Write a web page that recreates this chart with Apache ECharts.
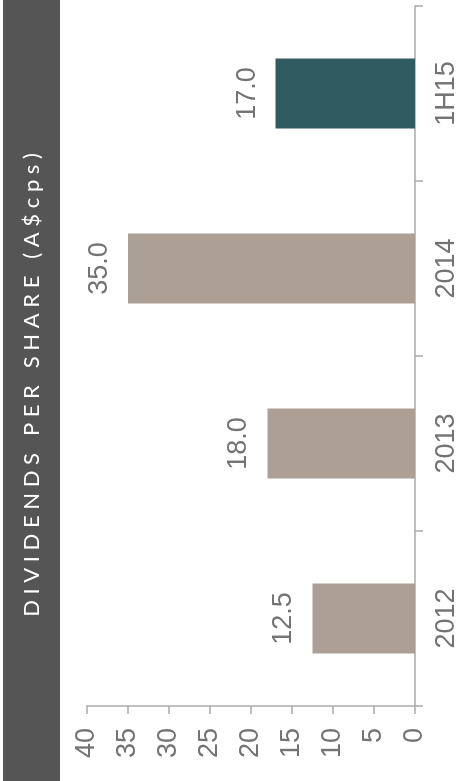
<!DOCTYPE html>
<html>
<head>
<meta charset="utf-8">
<script src="https://cdn.jsdelivr.net/npm/echarts@6/dist/echarts.min.js"></script>
<style>
  html, body { margin: 0; padding: 0; background: #ffffff; overflow: hidden; }
  body { width: 462px; height: 781px; position: relative; }
  /* chart is laid out as a column chart and turned a quarter turn anticlockwise */
  #chart {
    position: absolute; left: 0; top: 0;
    width: 781px; height: 462px;
    transform-origin: 0 0;
    transform: translateY(781px) rotate(-90deg);
  }
</style>
</head>
<body>
<div id="chart"></div>
<script>
// Dividends per share, A$ cents
const categories = ['2012', '2013', '2014', '1H15'];
const dividends = [12.5, 18.0, 35.0, 17.0];
const valueTicks = [0, 5, 10, 15, 20, 25, 30, 35, 40];
const titleText = 'DIVIDENDS PER SHARE (A$cps)';
const latestPeriod = '1H15';

const GREY_BAR = '#ab9f96';
const TEAL_BAR = '#305b60';
const AXIS = '#ababab';
const LABEL = '#737373';
const NUM_FONT = '"Liberation Sans", Arial, sans-serif';

// spread the heading letters out
const spacedTitle = titleText.split(' ')
  .map(w => w.split('').join(' '))
  .join('   ');

const chart = echarts.init(document.getElementById('chart'), null, { renderer: 'canvas' });

chart.setOption({
  animation: false,
  backgroundColor: '#ffffff',
  grid: { left: 75, right: 6, top: 87, bottom: 47, containLabel: false },
  graphic: [
    {
      type: 'rect',
      left: 0, top: 3,
      shape: { width: 781, height: 57 },
      style: { fill: '#555555' },
      silent: true
    },
    {
      type: 'text',
      x: 396, y: 31.5,
      style: {
        text: spacedTitle,
        fill: '#ffffff',
        font: '400 22px Lato, "Open Sans", sans-serif',
        align: 'center',
        verticalAlign: 'middle'
      },
      silent: true
    }
  ],
  xAxis: {
    type: 'category',
    data: categories,
    axisLine: { show: true, lineStyle: { color: AXIS, width: 1.5 } },
    axisTick: { show: true, length: 8, alignWithLabel: false, lineStyle: { color: AXIS, width: 1.5 } },
    axisLabel: { color: LABEL, fontSize: 27, fontFamily: NUM_FONT, margin: 18 }
  },
  yAxis: {
    type: 'value',
    min: valueTicks[0],
    max: valueTicks[valueTicks.length - 1],
    interval: valueTicks[1] - valueTicks[0],
    axisLine: { show: true, lineStyle: { color: AXIS, width: 1.5 } },
    axisTick: { show: true, length: 8, lineStyle: { color: AXIS, width: 1.5 } },
    splitLine: { show: false },
    axisLabel: { color: LABEL, fontSize: 27, fontFamily: NUM_FONT, margin: 22 }
  },
  series: [{
    type: 'bar',
    barWidth: 70,
    data: dividends.map((v, i) => ({
      value: v,
      itemStyle: { color: categories[i] === latestPeriod ? TEAL_BAR : GREY_BAR }
    })),
    label: {
      show: true,
      position: 'top',
      distance: 15,
      color: LABEL,
      fontSize: 27,
      fontFamily: NUM_FONT,
      formatter: p => p.value.toFixed(1)
    }
  }]
});
</script>
</body>
</html>
